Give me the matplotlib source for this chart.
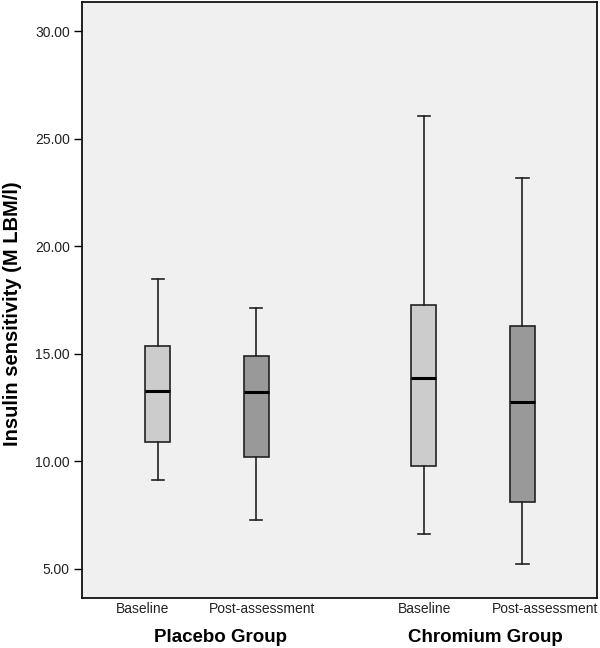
import matplotlib
matplotlib.use("Agg")
import matplotlib.pyplot as plt
import matplotlib.transforms as mtransforms

plt.rcParams['font.family'] = ['Liberation Sans', 'DejaVu Sans']

# Data (box statistics)
tick_labels = ["Baseline", "Post-assessment", "Baseline", "Post-assessment"]
groups = ["Placebo Group", "Chromium Group"]
whislo = [9.12, 7.26, 6.63, 5.25]
q1 = [10.89, 10.19, 9.79, 8.11]
med = [13.27, 13.22, 13.89, 12.78]
q3 = [15.38, 14.91, 17.30, 16.32]
whishi = [18.48, 17.16, 26.07, 23.20]
fills = ["#cccccc", "#999999", "#cccccc", "#999999"]
yticks = [5, 10, 15, 20, 25, 30]

positions = [0, 1, 2.7, 3.7]
label_pos = [-0.15, 1.06, 2.71, 3.93]
group_x = [0.64, 3.32]

fig = plt.figure(figsize=(6, 6.48), dpi=100)
ax = fig.add_axes([0.137, 0.0772, 0.858, 0.9197])
ax.set_facecolor("#f0f0f0")

stats = []
for i in range(4):
    stats.append(dict(whislo=whislo[i], q1=q1[i], med=med[i], q3=q3[i],
                      whishi=whishi[i], fliers=[], label=tick_labels[i]))

bp = ax.bxp(stats, positions=positions, widths=0.2535, patch_artist=True,
            showfliers=False, manage_ticks=False,
            boxprops=dict(edgecolor="#222222", linewidth=1.2),
            whiskerprops=dict(color="#222222", linewidth=1.2),
            capprops=dict(color="#222222", linewidth=1.2),
            medianprops=dict(color="black", linewidth=2.2),
            capwidths=0.125)
for patch, c in zip(bp["boxes"], fills):
    patch.set_facecolor(c)

ax.set_xlim(-0.766, 4.456)
ax.set_ylim(3.65, 31.37)
ax.set_yticks(yticks)
ax.set_yticklabels([f"{v:.2f}" for v in yticks], fontsize=10, color="#222222")
ax.tick_params(axis="y", length=6, width=1, direction="out", pad=3)
ax.tick_params(axis="x", length=0, pad=3)
ax.set_xticks(label_pos)
ax.set_xticklabels(tick_labels, fontsize=10, color="#222222")
for s in ax.spines.values():
    s.set_linewidth(1.3)
    s.set_color("#111111")

ax.set_ylabel("Insulin sensitivity (M LBM/l)", fontsize=14.5, fontweight="bold")
ax.yaxis.set_label_coords(-0.1165, 0.4765)

trans = mtransforms.blended_transform_factory(ax.transData, fig.transFigure)
for gx, g in zip(group_x, groups):
    ax.text(gx, (648 - 637.5) / 648, g, transform=trans, ha="center", va="center",
            fontsize=13.5, fontweight="bold")

fig.savefig("out.png", dpi=100)
